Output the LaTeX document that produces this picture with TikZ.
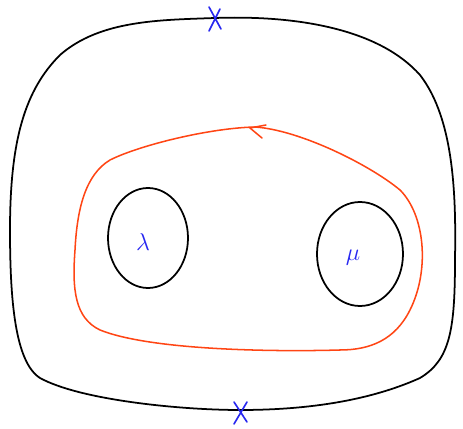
\documentclass[tikz,border=0pt]{standalone}
\usetikzlibrary{arrows.meta,calc}
\definecolor{sketchred}{RGB}{255,69,20}
\definecolor{sketchblue}{RGB}{40,40,240}
\tikzset{
  blackline/.style={line width=1.5pt, black, line join=round},
  redline/.style={line width=1.3pt, sketchred, line join=round},
  bluetext/.style={text=sketchblue, font=\fontsize{22}{24}\selectfont},
  crossmark/.style={line width=1.4pt, sketchblue, line cap=round}
}
\begin{document}
\begin{tikzpicture}[x=0.03cm,y=-0.03cm]
\useasboundingbox (0,0) rectangle (463,429);
% outer boundary
\draw[blackline] (215,18) .. controls (300,15) and (380,30) .. (420,75)
  .. controls (455,120) and (456,200) .. (455,260)
  .. controls (455,330) and (450,360) .. (420,378)
  .. controls (360,405) and (290,410) .. (240,410)
  .. controls (180,410) and (80,400) .. (40,378)
  .. controls (15,362) and (10,300) .. (10,230)
  .. controls (10,140) and (25,90) .. (60,55)
  .. controls (100,20) and (160,20) .. cycle;
% red loop
\draw[redline] (255,127) .. controls (300,130) and (370,165) .. (400,190)
  .. controls (425,215) and (430,270) .. (410,310)
  .. controls (395,340) and (370,350) .. (340,350)
  .. controls (270,352) and (150,350) .. (100,330)
  .. controls (75,318) and (72,290) .. (75,250)
  .. controls (77,210) and (85,175) .. (110,160)
  .. controls (140,145) and (210,128) .. cycle;
% arrow head on red loop
\coordinate (ah) at (250,128);
\draw[redline, line cap=round] (ah) -- ++(16,-3);
\draw[redline, line cap=round] (ah) -- ++(12,10);
% small circles
\draw[blackline] (148,238) ellipse [x radius=40, y radius=50];
\draw[blackline] (360,254) ellipse [x radius=43, y radius=52];
\node[bluetext] (lambda) at (143,242) {$\lambda$};
\node[bluetext] (mu) at (353,258) {$\mu$};
% crosses
\coordinate (xt) at (215,18);
\coordinate (xb) at (240,412);
\draw[crossmark] ($(xt)+(-6,-11)$) -- ($(xt)+(6,11)$) ($(xt)+(5,-9)$) -- ($(xt)+(-6,13)$);
\draw[crossmark] ($(xb)+(-6,-10)$) -- ($(xb)+(7,10)$) ($(xb)+(7,-10)$) -- ($(xb)+(-6,12)$);
\end{tikzpicture}
\end{document}
